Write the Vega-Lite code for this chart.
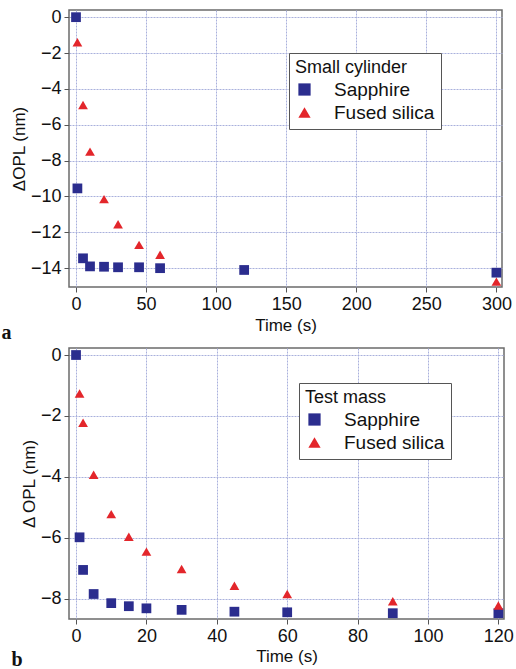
{
  "$schema": "https://vega.github.io/schema/vega-lite/v6.json",
  "padding": {"left": 0, "top": 7, "right": 8, "bottom": 0},
  "spacing": 1,
  "datasets": {
    "cyl": [
      {"time": 0, "opl": 0, "material": "Sapphire"},
      {"time": 1, "opl": -9.55, "material": "Sapphire"},
      {"time": 5, "opl": -13.45, "material": "Sapphire"},
      {"time": 10, "opl": -13.9, "material": "Sapphire"},
      {"time": 20, "opl": -13.92, "material": "Sapphire"},
      {"time": 30, "opl": -13.95, "material": "Sapphire"},
      {"time": 45, "opl": -13.95, "material": "Sapphire"},
      {"time": 60, "opl": -14.0, "material": "Sapphire"},
      {"time": 120, "opl": -14.1, "material": "Sapphire"},
      {"time": 300, "opl": -14.25, "material": "Sapphire"},
      {"time": 1, "opl": -1.4, "material": "Fused silica"},
      {"time": 5, "opl": -4.9, "material": "Fused silica"},
      {"time": 10, "opl": -7.5, "material": "Fused silica"},
      {"time": 20, "opl": -10.15, "material": "Fused silica"},
      {"time": 30, "opl": -11.55, "material": "Fused silica"},
      {"time": 45, "opl": -12.7, "material": "Fused silica"},
      {"time": 60, "opl": -13.25, "material": "Fused silica"},
      {"time": 300, "opl": -14.75, "material": "Fused silica"}
    ],
    "tm": [
      {"time": 0, "opl": 0, "material": "Sapphire"},
      {"time": 1, "opl": -5.98, "material": "Sapphire"},
      {"time": 2, "opl": -7.05, "material": "Sapphire"},
      {"time": 5, "opl": -7.84, "material": "Sapphire"},
      {"time": 10, "opl": -8.14, "material": "Sapphire"},
      {"time": 15, "opl": -8.24, "material": "Sapphire"},
      {"time": 20, "opl": -8.31, "material": "Sapphire"},
      {"time": 30, "opl": -8.36, "material": "Sapphire"},
      {"time": 45, "opl": -8.42, "material": "Sapphire"},
      {"time": 60, "opl": -8.44, "material": "Sapphire"},
      {"time": 90, "opl": -8.47, "material": "Sapphire"},
      {"time": 120, "opl": -8.47, "material": "Sapphire"},
      {"time": 1, "opl": -1.26, "material": "Fused silica"},
      {"time": 2, "opl": -2.22, "material": "Fused silica"},
      {"time": 5, "opl": -3.93, "material": "Fused silica"},
      {"time": 10, "opl": -5.22, "material": "Fused silica"},
      {"time": 15, "opl": -5.96, "material": "Fused silica"},
      {"time": 20, "opl": -6.45, "material": "Fused silica"},
      {"time": 30, "opl": -7.02, "material": "Fused silica"},
      {"time": 45, "opl": -7.57, "material": "Fused silica"},
      {"time": 60, "opl": -7.84, "material": "Fused silica"},
      {"time": 90, "opl": -8.08, "material": "Fused silica"},
      {"time": 120, "opl": -8.22, "material": "Fused silica"}
    ]
  },
  "vconcat": [
    {
      "data": {"name": "cyl"},
      "width": 433,
      "height": 277,
      "title": {"text": "a", "orient": "bottom", "anchor": "start", "frame": "bounds", "offset": -10, "dx": -9},
      "mark": {"type": "point", "filled": true, "opacity": 1, "size": 95},
      "encoding": {
        "x": {"field": "time", "type": "quantitative", "title": "Time (s)",
              "scale": {"domain": [-5, 304], "nice": false, "zero": false},
              "axis": {"values": [0, 50, 100, 150, 200, 250, 300], "titlePadding": 4}},
        "y": {"field": "opl", "type": "quantitative", "title": "ΔOPL (nm)",
              "scale": {"domain": [-15.05, 0.4], "nice": false, "zero": false},
              "axis": {"values": [-14, -12, -10, -8, -6, -4, -2, 0]}},
        "color": {"field": "material", "type": "nominal",
                  "scale": {"domain": ["Sapphire", "Fused silica"], "range": ["#2b2d8e", "#e3262b"]},
                  "legend": {"title": "Small cylinder", "orient": "none", "legendX": 220, "legendY": 43}},
        "shape": {"field": "material", "type": "nominal",
                  "scale": {"domain": ["Sapphire", "Fused silica"], "range": ["square", "triangle-up"]},
                  "legend": {"title": "Small cylinder", "orient": "none", "legendX": 220, "legendY": 43}}
      }
    },
    {
      "data": {"name": "tm"},
      "width": 435,
      "height": 271,
      "title": {"text": "b", "orient": "bottom", "anchor": "start", "frame": "bounds", "offset": -14, "dx": -9},
      "mark": {"type": "point", "filled": true, "opacity": 1, "size": 95},
      "encoding": {
        "x": {"field": "time", "type": "quantitative", "title": "Time (s)",
              "scale": {"domain": [-2, 121.6], "nice": false, "zero": false},
              "axis": {"values": [0, 20, 40, 60, 80, 100, 120], "titlePadding": 3}},
        "y": {"field": "opl", "type": "quantitative", "title": "Δ OPL (nm)",
              "scale": {"domain": [-8.66, 0.23], "nice": false, "zero": false},
              "axis": {"values": [-8, -6, -4, -2, 0]}},
        "color": {"field": "material", "type": "nominal",
                  "scale": {"domain": ["Sapphire", "Fused silica"], "range": ["#2b2d8e", "#e3262b"]},
                  "legend": {"title": "Test mass", "orient": "none", "legendX": 230, "legendY": 35}},
        "shape": {"field": "material", "type": "nominal",
                  "scale": {"domain": ["Sapphire", "Fused silica"], "range": ["square", "triangle-up"]},
                  "legend": {"title": "Test mass", "orient": "none", "legendX": 230, "legendY": 35}}
      }
    }
  ],
  "resolve": {"scale": {"x": "independent", "y": "independent", "color": "independent", "shape": "independent"}, "legend": {"color": "independent", "shape": "independent"}},
  "config": {
    "font": "Liberation Sans",
    "view": {"stroke": "#6b6b6b", "strokeWidth": 1.5},
    "axis": {
      "labelFont": "Liberation Sans", "labelFontSize": 18, "labelColor": "#111",
      "titleFont": "Liberation Sans", "titleFontSize": 17, "titleFontWeight": "normal", "titleColor": "#111",
      "grid": true, "gridColor": "#a9b0dc", "gridDash": [2, 1], "gridWidth": 1, "gridOpacity": 1,
      "domain": false, "tickColor": "#555", "tickSize": 5, "labelPadding": 3, "titlePadding": 2
    },
    "legend": {
      "titleFont": "Liberation Sans", "titleFontSize": 18, "titleFontWeight": "normal", "titleColor": "#111",
      "labelFont": "Liberation Sans", "labelFontSize": 19, "labelColor": "#111",
      "strokeColor": "#555", "fillColor": "white", "padding": 6, "symbolSize": 150, "symbolOpacity": 1,
      "symbolType": "square", "rowPadding": 3, "labelOffset": 20, "titlePadding": 3
    },
    "title": {"font": "Liberation Serif", "fontSize": 20, "fontWeight": "bold", "color": "#111"}
  }
}
